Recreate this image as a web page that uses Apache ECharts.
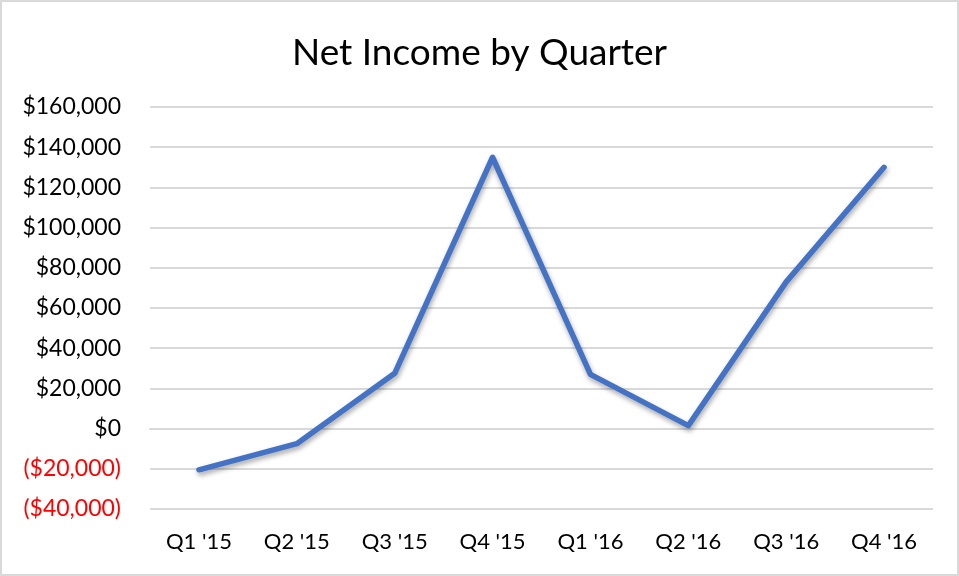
<!DOCTYPE html>
<html>
<head>
<meta charset="utf-8">
<script src="https://cdn.jsdelivr.net/npm/echarts@6/dist/echarts.min.js"></script>
<style>
  html, body { margin: 0; padding: 0; background: #fff; }
  #chart { width: 959px; height: 576px; box-sizing: border-box; border: 2px solid #d9d9d9; }
</style>
</head>
<body>
<div id="chart"></div>
<script>
// 季度净收入折线图
const quarters = ["Q1 '15", "Q2 '15", "Q3 '15", "Q4 '15", "Q1 '16", "Q2 '16", "Q3 '16", "Q4 '16"];
const netIncome = [-20500, -7500, 27500, 135000, 27000, 1500, 73000, 130000];

const chart = echarts.init(document.getElementById('chart'));

function money(v) {
  const s = '$' + Math.abs(v).toLocaleString('en-US');
  return v < 0 ? '{neg|(' + s + ')}' : s;
}

const option = {
  title: {
    text: 'Net Income by Quarter',
    left: 'center',
    top: 28,
    textStyle: {
      fontFamily: 'Lato',
      fontSize: 37,
      fontWeight: 'normal',
      color: '#000'
    }
  },
  grid: {
    left: 148,
    right: 24,
    top: 105,
    bottom: 65
  },
  xAxis: {
    type: 'category',
    data: quarters,
    boundaryGap: true,
    axisLine: { lineStyle: { color: '#d9d9d9', width: 2 } },
    axisTick: { show: false },
    axisLabel: {
      color: '#000',
      fontFamily: 'Lato',
      fontSize: 22,
      margin: 22
    }
  },
  yAxis: {
    type: 'value',
    min: -40000,
    max: 160000,
    interval: 20000,
    axisLine: { show: false },
    axisTick: { show: false },
    splitLine: { lineStyle: { color: '#d9d9d9', width: 2 } },
    axisLabel: {
      color: '#000',
      fontFamily: 'Lato',
      fontSize: 23,
      margin: 29,
      formatter: money,
      rich: {
        neg: { color: '#ff0000', fontFamily: 'Lato', fontSize: 23 }
      }
    }
  },
  series: [
    {
      type: 'line',
      data: netIncome,
      symbol: 'none',
      lineStyle: {
        color: '#4472c4',
        width: 5.5,
        cap: 'round',
        join: 'round',
        shadowColor: 'rgba(0,0,0,0.35)',
        shadowBlur: 5,
        shadowOffsetY: 3,
        shadowOffsetX: 1
      }
    }
  ],
  animation: false
};

chart.setOption(option);
</script>
</body>
</html>
